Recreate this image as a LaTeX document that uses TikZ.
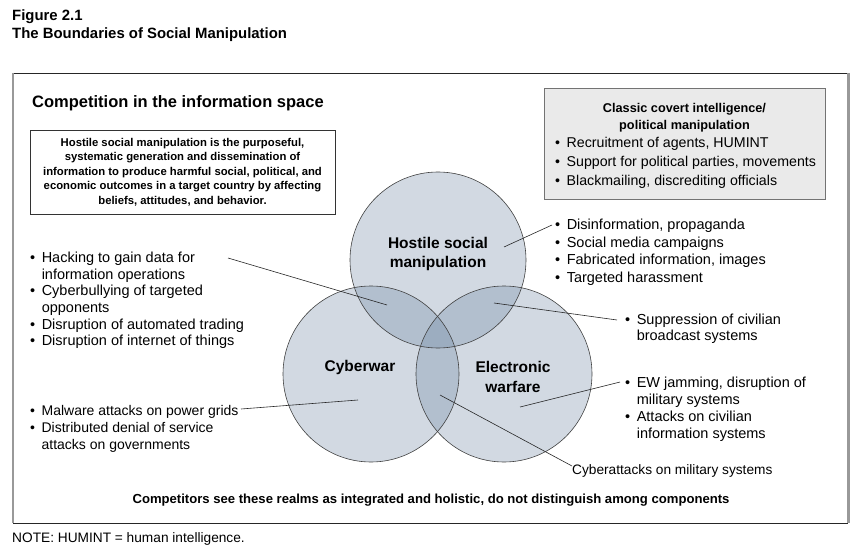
\documentclass[tikz,border=0pt]{standalone}
\usepackage{fontspec}
\setmainfont{Liberation Sans}
\usetikzlibrary{positioning}
\definecolor{vennblue}{RGB}{105,130,160}
\definecolor{boxgray}{RGB}{234,234,234}
\newcommand{\bl}{\textbullet\hspace{6.5pt}}
\newcommand{\ind}{\hphantom{\textbullet\hspace{6.5pt}}}

\begin{document}
\begin{tikzpicture}[x=1pt, y=-1pt, %
    realm/.style={circle, minimum size=176pt, inner sep=0pt, fill=vennblue, fill opacity=0.3},
    realmtxt/.style={font=\fontsize{15.5}{19.5}\selectfont\bfseries, align=center, inner sep=0pt},
    lst/.style={font=\fontsize{14.5}{17}\selectfont, align=left, inner sep=0pt, anchor=north west},
    lead/.style={draw=black!85, line width=0.6pt}
  ]
  \useasboundingbox (0,0) rectangle (854,548);
  % title
  \node[anchor=west, inner sep=0pt, font=\fontsize{14.9}{16}\selectfont\bfseries] (fig) at (12,17) {Figure 2.1};
  \node[anchor=west, inner sep=0pt, font=\fontsize{14.9}{16}\selectfont\bfseries] (ttl) at (12,35) {The Boundaries of Social Manipulation};
  % frame
  \draw[black!85, line width=0.8pt] (13,73) rectangle (847,523);
  \draw[black!40, line width=2pt] (13,73) -- (13,523);
  \draw[black!40, line width=3pt] (848,73) -- (848,523);
  \node[anchor=west, inner sep=0pt, font=\fontsize{16.5}{18}\selectfont\bfseries] (comp) at (32,103) {Competition in the information space};
  \node[draw=black!80, fill=white, line width=0.7pt, minimum width=305pt, minimum height=84pt,
    align=center, font=\fontsize{11.3}{14.4}\selectfont\bfseries] (defn) at (182.5,172)
    {Hostile social manipulation is the purposeful,\\ systematic generation and dissemination of\\
     information to produce harmful social, political, and\\ economic outcomes in a target country by affecting\\
     beliefs, attitudes, and behavior.};
  % covert box
  \node[draw=black!55, fill=boxgray, line width=0.8pt, minimum width=281pt, minimum height=111pt] (classic) at (684.5,143.5) {};
  \node[font=\fontsize{12.7}{17}\selectfont\bfseries, align=center, inner sep=0pt] (classichd) at (684.5,117.5)
    {Classic covert intelligence/\\ political manipulation};
  \node[lst, font=\fontsize{14.2}{19}\selectfont] (covert) at (555,137)
    {\bl Recruitment of agents, HUMINT\\ \bl Support for political parties, movements\\ \bl Blackmailing, discrediting officials};
  % circles
  \node[realm] (hsm) at (438,260) {};
  \node[realm] (cyber) at (371,374) {};
  \node[realm] (ew) at (504,374) {};
  \foreach \c in {hsm,cyber,ew}
    \draw[black!75, line width=0.6pt] (\c.center) circle (88pt);
  \node[realmtxt] (hsmlbl) at (438,254) {Hostile social\\ manipulation};
  \node[realmtxt] (cyberlbl) at (360,367) {Cyberwar};
  \node[realmtxt] (ewlbl) at (513,377) {Electronic\\ warfare};
  % lists
  \node[lst, font=\fontsize{14.5}{16.6}\selectfont] (hack) at (30,252)
    {\bl Hacking to gain data for\\ \ind information operations\\ \bl Cyberbullying of targeted\\ \ind opponents\\
     \bl Disruption of automated trading\\ \bl Disruption of internet of things};
  \node[lst, font=\fontsize{14}{17}\selectfont] (mal) at (30,405)
    {\bl Malware attacks on power grids\\ \bl Distributed denial of service\\ \ind attacks on governments};
  \node[lst, font=\fontsize{14.5}{17.6}\selectfont] (dis) at (555,219)
    {\bl Disinformation, propaganda\\ \bl Social media campaigns\\ \bl Fabricated information, images\\ \bl Targeted harassment};
  \node[lst, font=\fontsize{14.5}{16}\selectfont] (sup) at (625,314)
    {\bl Suppression of civilian\\ \ind broadcast systems};
  \node[lst] (ewj) at (625,377)
    {\bl EW jamming, disruption of\\ \ind military systems\\ \bl Attacks on civilian\\ \ind information systems};
  \node[anchor=west, inner sep=0pt, font=\fontsize{13.7}{16}\selectfont] (cyat) at (572,471) {Cyberattacks on military systems};
  % leaders
  \coordinate (hackA) at (228,258); \coordinate (hackB) at (387,305);
  \coordinate (disA) at (504,247);  \coordinate (disB) at (552,225);
  \coordinate (supA) at (494,303);  \coordinate (supB) at (617,320);
  \coordinate (ewjA) at (520,407);  \coordinate (ewjB) at (620,382);
  \coordinate (cyatA) at (440,395); \coordinate (cyatB) at (572,466);
  \coordinate (malA) at (358,400);  \coordinate (malB) at (241,409);
  \foreach \l in {hack,dis,sup,ewj,cyat,mal}
    \draw[lead] (\l A) -- (\l B);
  % footer
  \node[font=\fontsize{13.1}{15}\selectfont\bfseries, inner sep=0pt] (concl) at (431,500)
    {Competitors see these realms as integrated and holistic, do not distinguish among components};
  \node[anchor=west, inner sep=0pt, font=\fontsize{13.7}{16}\selectfont] (note) at (12,539) {NOTE: HUMINT = human intelligence.};
\end{tikzpicture}
\end{document}
